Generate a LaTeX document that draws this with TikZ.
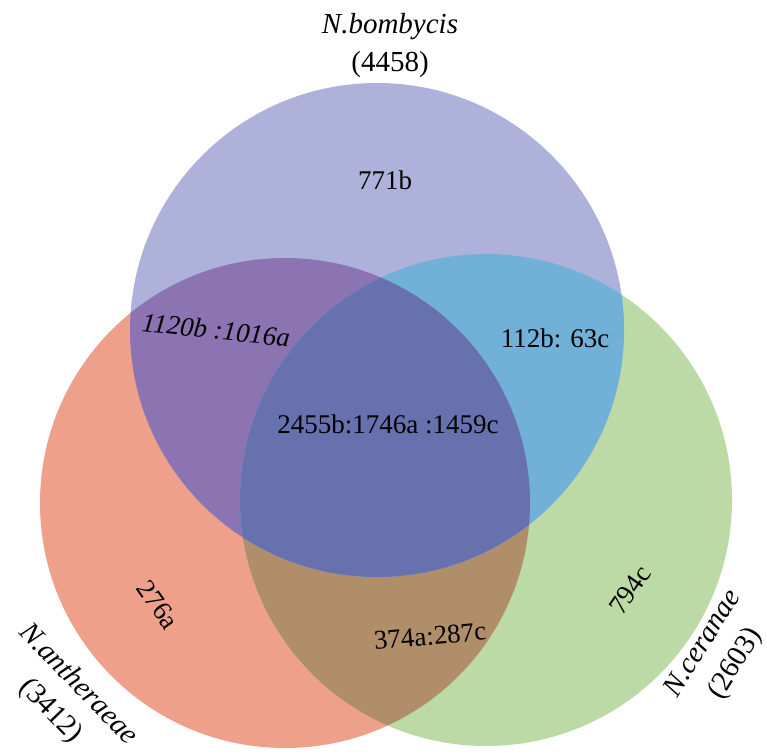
\documentclass[tikz,border=0pt]{standalone}
\usepackage{fontspec}
\setmainfont{Liberation Serif}
\usetikzlibrary{positioning}

\definecolor{bombcol}{HTML}{AEB2DA}
\definecolor{anthcol}{HTML}{EFA08A}
\definecolor{ceracol}{HTML}{BCDAA5}
\definecolor{bombanth}{HTML}{8B74B1}
\definecolor{bombcera}{HTML}{72B1D7}
\definecolor{anthcera}{HTML}{B08E6A}
\definecolor{allthree}{HTML}{6671AE}

\begin{document}
\begin{tikzpicture}[x=1pt,y=-1pt]
	\tikzstyle{count}=[font=\fontsize{27}{30}\selectfont,inner sep=0pt]
	\tikzstyle{species}=[font=\fontsize{29}{38}\selectfont,inner sep=0pt,align=center]
	\useasboundingbox (0,0) rectangle (767,755);
	\coordinate (cb) at (377,330);
	\coordinate (ca) at (285,503);
	\coordinate (cc) at (486,500);
	% circles
	\fill[anthcol] (ca) circle [radius=245pt];
	\fill[ceracol] (cc) circle [radius=246pt];
	\begin{scope}
		\clip (ca) circle [radius=245pt];
		\fill[anthcera] (cc) circle [radius=246pt];
	\end{scope}
	\fill[bombcol] (cb) circle [radius=247pt];
	\begin{scope}
		\clip (cb) circle [radius=247pt];
		\fill[bombanth] (ca) circle [radius=245pt];
		\fill[bombcera] (cc) circle [radius=246pt];
		\clip (ca) circle [radius=245pt];
		\fill[allthree] (cc) circle [radius=246pt];
	\end{scope}
	% counts
	\node[count] (b) at (385,180) {771b};
	\node[count,rotate=-6] (ba) at (216,330) {\itshape 1120b :1016a};
	\node[count] (bc) at (555,338) {112b: 63c};
	\node[count] (bac) at (388,424) {2455b:1746a :1459c};
	\node[count,rotate=-55] (a) at (158,605) {276a};
	\node[count,rotate=5] (ac) at (430,636) {374a:287c};
	\node[count,rotate=55] (c) at (630,590) {794c};
	% names
	\node[species] (nb) at (390,46) {\itshape N.bombycis\\(4458)};
	\node[species,rotate=-46] (na) at (64,698) {\itshape N.antheraeae\\(3412)};
	\node[species,rotate=58] (nc) at (720,654) {\itshape N.ceranae\\(2603)};
\end{tikzpicture}
\end{document}
